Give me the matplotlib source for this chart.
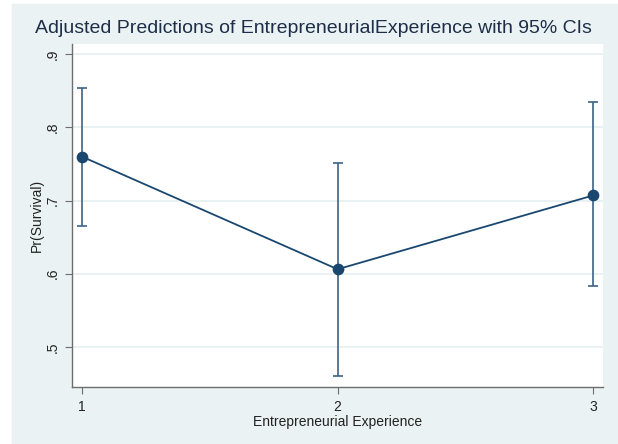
import matplotlib.pyplot as plt
from matplotlib.patches import Rectangle

# margins output
experience = [1, 2, 3]
pr_survival = [0.760, 0.606, 0.707]
ci_low = [0.665, 0.460, 0.583]
ci_high = [0.854, 0.751, 0.835]

y_ticks = [0.5, 0.6, 0.7, 0.8, 0.9]
y_labels = [".5", ".6", ".7", ".8", ".9"]

BG = "#EAF2F3"
NAVY = "#1A476F"

plt.rcParams["font.family"] = ["Liberation Sans", "DejaVu Sans"]

fig = plt.figure(figsize=(6.18, 4.44), dpi=100)
fig.patches.append(Rectangle((12 / 618, 0), 1 - 12 / 618, 440 / 444,
                             transform=fig.transFigure, color=BG, zorder=-1))

W, H = 618, 444
ax = fig.add_axes([72 / W, 1 - 387 / H, (603 - 72) / W, (387 - 44) / H])
ax.set_facecolor("white")

ax.plot(experience, pr_survival, color=NAVY, lw=1.3, zorder=3)
yerr = [[p - l for p, l in zip(pr_survival, ci_low)],
        [h - p for p, h in zip(pr_survival, ci_high)]]
ax.errorbar(experience, pr_survival, yerr=yerr, fmt="none", ecolor="#3B6287",
            elinewidth=1.2, capsize=3.5, capthick=1.2, zorder=2)
ax.scatter(experience, pr_survival, s=55, color=NAVY, zorder=4)

ax.set_xlim(0.961, 3.038)
ax.set_ylim(0.445, 0.914)
ax.set_xticks(experience)
ax.set_yticks(y_ticks)
ax.set_yticklabels(y_labels, rotation=90, va="center")
ax.grid(axis="y", color="#E3EDEF", lw=1.1)
ax.set_axisbelow(True)

for side in ("top", "right"):
    ax.spines[side].set_visible(False)
for side in ("left", "bottom"):
    ax.spines[side].set_color("#6E6E6E")
    ax.spines[side].set_linewidth(1)
ax.tick_params(direction="out", length=5, color="#6E6E6E", labelsize=10,
               labelcolor="#222222", pad=4)

ax.set_xlabel("Entrepreneurial Experience", fontsize=10, color="#222222", labelpad=1)
ax.set_ylabel("Pr(Survival)", fontsize=10, color="#222222", labelpad=1)
fig.text(0.5 + 4 / W, 1 - 33 / H, "Adjusted Predictions of EntrepreneurialExperience with 95% CIs",
         ha="center", va="baseline", fontsize=14, color="#1E2E48")

fig.savefig("out.png", dpi=100, facecolor="white")
